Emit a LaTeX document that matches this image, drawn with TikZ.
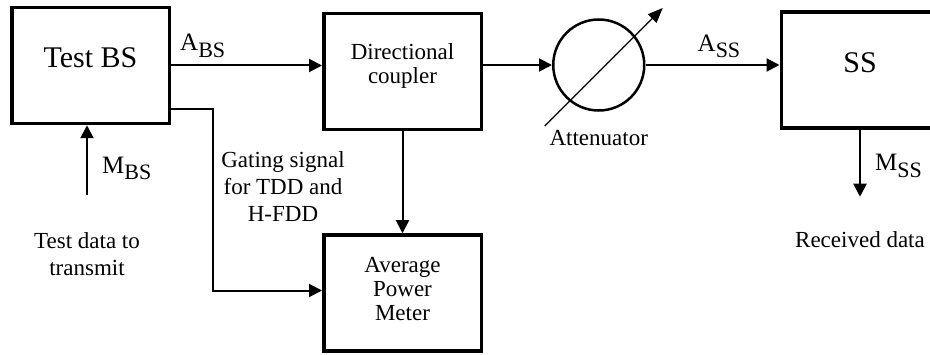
\documentclass[tikz,border=0pt]{standalone}
\usepackage{fontspec}
\setmainfont{Liberation Serif}
\usetikzlibrary{arrows.meta, positioning}
\newcommand{\sublbl}[2]{#1\raisebox{-6.5pt}{\fontsize{22}{22}\selectfont #2}}
\newcommand{\boxlines}[2]{\raisebox{#1}[0pt][0pt]{\begin{tabular}{@{}c@{}}#2\end{tabular}}}

\begin{document}
\begin{tikzpicture}[
            x=1pt, y=1pt,
            node distance=20pt,
            box/.style={rectangle, draw, line width=3.5pt, minimum width=157.5pt, minimum height=116pt},
            bigtxt/.style={font=\fontsize{30}{32}\selectfont},
            boxtxt/.style={font=\fontsize{23}{24}\selectfont},
            txt/.style={font=\fontsize{23}{27}\selectfont, align=center, inner sep=0pt},
            lbl/.style={font=\fontsize{25}{28}\selectfont, inner sep=0pt},
            arrow/.style={-{Triangle[length=13pt, width=13pt]}, line width=2pt},
            dial/.style={-{Triangle[length=15pt, width=12pt]}, line width=1.3pt}
        ]
            \useasboundingbox (0,0) rectangle (930,354);

            \node[box, bigtxt, text depth=16pt] (tbs) at (90.5,288.5) {Test BS};
            \node[box, boxtxt, right=151pt of tbs, yshift=-6pt] (dc) {\boxlines{-1pt}{Directional\\coupler}};
            \node[circle, draw, line width=2.5pt, minimum size=91pt, inner sep=0pt, right=69pt of dc, yshift=6.5pt] (att) {};
            \node[box, bigtxt, text depth=14pt, right=134pt of att, yshift=-5pt] (ss) {SS};
            \node[box, boxtxt, below=102pt of dc] (apm) {\boxlines{-4.5pt}{Average\\Power\\Meter}};

            \node[txt, below=18pt of att] (attlbl) {Attenuator};
            \node[txt] (gate) at (283,167) {Gating signal\\for TDD and\\H-FDD};

            \coordinate (mbsin) at (87,159);
            \coordinate[below=67pt of ss] (mssout);
            \node[txt, below=37pt of mbsin] (tdata) {Test data to\\transmit};
            \node[txt, below=35pt of mssout] (rdata) {Received data};

            \node[lbl, anchor=south west] (abs) at ([shift={(9pt,8pt)}]tbs.east) {\sublbl{A}{BS}};
            \node[lbl, anchor=south west] (ass) at ([shift={(52pt,7pt)}]att.east) {\sublbl{A}{SS}};
            \node[lbl, anchor=south west] (mbs) at ([shift={(15pt,15pt)}]mbsin) {\sublbl{M}{BS}};
            \node[lbl, anchor=south west] (mss) at ([shift={(15pt,19pt)}]mssout) {\sublbl{M}{SS}};

            \draw[arrow] (tbs.east) -- (tbs.east -| dc.west);
            \draw[arrow] (dc.east |- att.west) -- (att.west);
            \draw[arrow] (att.east) -- (att.east -| ss.west);
            \draw[arrow] (dc.south) -- (apm.north);
            \draw[arrow] ([yshift=-43.5pt]tbs.east) -- ++(42pt,0) |- ([yshift=2.5pt]apm.west);
            \draw[arrow] (mbsin) -- (mbsin |- tbs.south);
            \draw[arrow] (ss.south) -- (mssout);
            \draw[dial] ([shift={(-54pt,-61pt)}]att.center) -- ([shift={(64pt,57pt)}]att.center);
        \end{tikzpicture}
\end{document}
